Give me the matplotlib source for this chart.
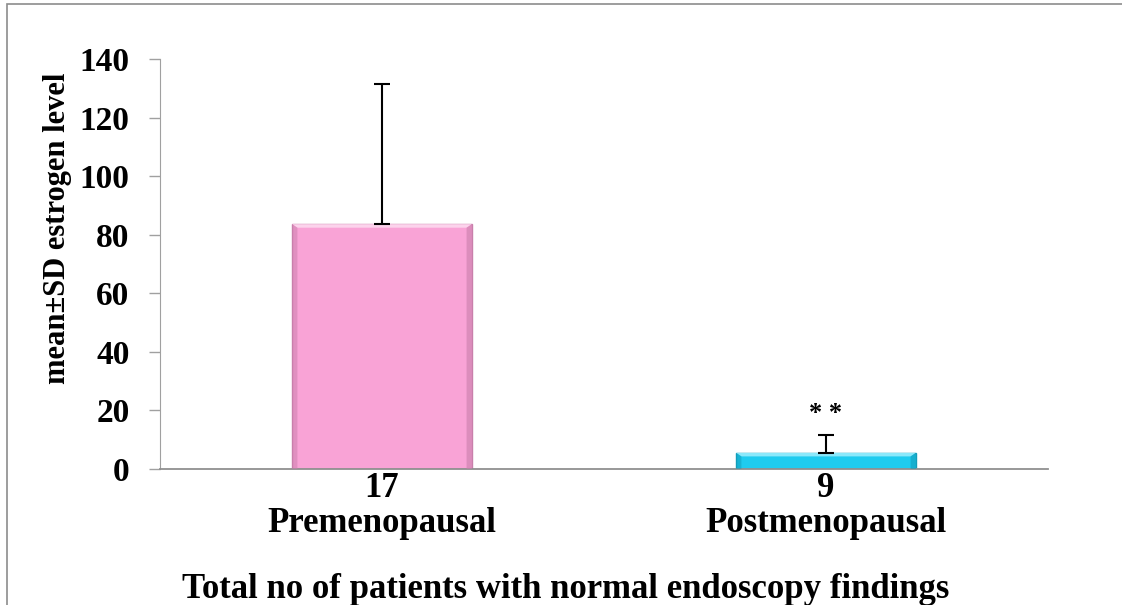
import matplotlib.pyplot as plt
from matplotlib.patches import Rectangle, Polygon

# mean and SD of estrogen level per group
groups = ["Premenopausal", "Postmenopausal"]
n_patients = [17, 9]
means = [83.6, 5.5]
sds = [47.8, 6.1]
yticks = [0, 20, 40, 60, 80, 100, 120, 140]

face = ["#F9A3D6", "#1ECBEF"]
light = ["#FCD3EC", "#8BE8FA"]
dark = ["#C97FAB", "#129DBA"]

plt.rcParams["font.family"] = ["Liberation Serif", "DejaVu Serif"]
plt.rcParams["font.weight"] = "bold"

fig = plt.figure(figsize=(11.22, 6.05), dpi=100)
W, H = 1122, 605
ax = fig.add_axes([160 / W, 1 - 469 / H, (1048 - 160) / W, (469 - 59) / H])

x = list(range(len(groups)))
width = 0.405
ax.bar(x, means, width=width, color=face, edgecolor=dark, linewidth=1.0, zorder=2)

# bevel: light strip on top, darker sides
for i, m in enumerate(means):
    l, r = i - width / 2, i + width / 2
    dy = 1.2
    dx = 0.012
    ax.add_patch(Polygon([[l, m], [r, m], [r - dx, m - dy], [l + dx, m - dy]],
                         closed=True, facecolor=light[i], edgecolor="none", zorder=3))
    ax.add_patch(Polygon([[l, 0], [l, m], [l + dx, m - dy], [l + dx, 0]],
                         closed=True, facecolor=dark[i], alpha=0.5, edgecolor="none", zorder=3))
    ax.add_patch(Polygon([[r, 0], [r, m], [r - dx, m - dy], [r - dx, 0]],
                         closed=True, facecolor=dark[i], alpha=0.6, edgecolor="none", zorder=3))

# plus-direction SD bars
ax.errorbar(x, means, yerr=[[0, 0], sds], fmt="none", ecolor="black",
            elinewidth=1.5, capsize=6, capthick=1.5, zorder=4)

ax.text(1, 15.0, "* *", ha="center", va="bottom", fontsize=19, fontweight="bold")

ax.set_xlim(-0.5, 1.5)
ax.set_ylim(0, 140)
ax.set_yticks(yticks)
ax.set_yticklabels([str(v) for v in yticks], fontsize=24, fontweight="bold")
ax.set_xticks(x)
ax.set_xticklabels([f"{n}\n{g}" for n, g in zip(n_patients, groups)],
                   fontsize=25, fontweight="bold", linespacing=1.1)
ax.tick_params(axis="x", length=0, pad=2)
ax.tick_params(axis="y", length=8, width=1, color="#A0A0A0", pad=14)

for s in ["top", "right"]:
    ax.spines[s].set_visible(False)
ax.spines["left"].set_color("#A0A0A0")
ax.spines["bottom"].set_color("#909090")
ax.spines["bottom"].set_linewidth(1.3)

fig.text(58 / W, 1 - 228 / H, "mean±SD estrogen level", rotation=90,
         ha="center", va="center", fontsize=22, fontweight="bold")
fig.text(566 / W, 1 - 598 / H, "Total no of patients with normal endoscopy findings",
         ha="center", va="baseline", fontsize=25, fontweight="bold")

# outer frame around the chart area
fig.patches.append(Rectangle((7 / W, -0.05), 1.5, 1.05 - 4 / H,
                             transform=fig.transFigure, fill=False,
                             edgecolor="#8C8C8C", linewidth=1.2))

fig.savefig("out.png", dpi=100)
